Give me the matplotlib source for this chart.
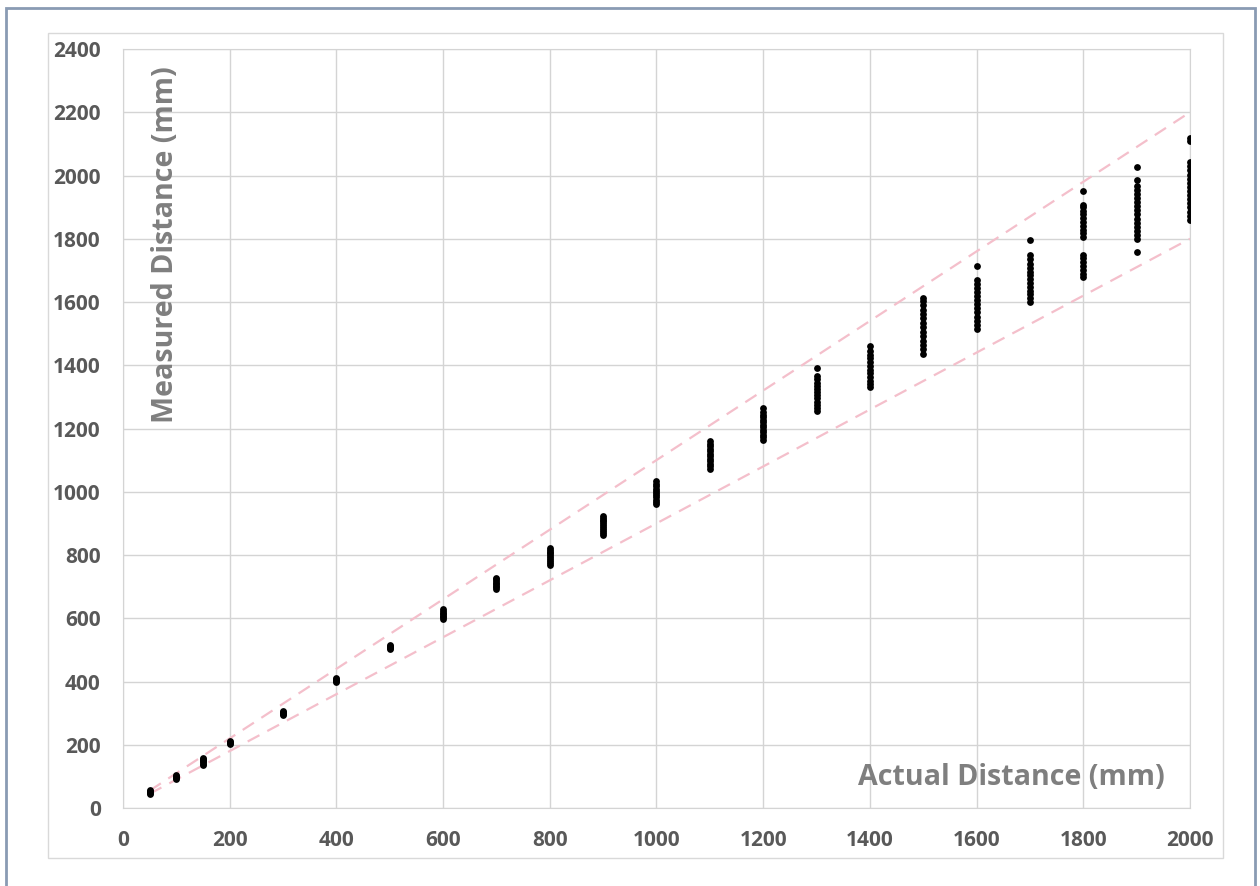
import matplotlib.pyplot as plt
from matplotlib.patches import Rectangle

plt.rcParams["font.family"] = ["Open Sans", "DejaVu Sans"]

# actual distance of each test position (mm)
posiciones = [50, 100, 150, 200, 300, 400, 500, 600, 700, 800, 900, 1000,
              1100, 1200, 1300, 1400, 1500, 1600, 1700, 1800, 1900, 2000]

lecturas = [
    [45, 48, 50, 53, 56],
    [92, 95, 98, 101, 104],
    [136, 140, 144, 148, 152, 155, 158],
    [203, 206, 209, 211],
    [295, 298, 301, 304, 306],
    [399, 402, 405, 408, 410],
    [503, 506, 509, 512, 515],
    [598, 603, 608, 613, 618, 623, 629],
    [693, 698, 703, 708, 713, 718, 723, 727],
    [769, 775, 781, 787, 793, 799, 805, 811, 817, 822],
    [864, 870, 876, 882, 888, 894, 900, 906, 912, 918, 923],
    [962, 968, 975, 982, 989, 996, 1003, 1010, 1017, 1024, 1033],
    [1072, 1080, 1088, 1096, 1104, 1112, 1120, 1128, 1136, 1144, 1152, 1160],
    [1164, 1172, 1180, 1188, 1196, 1204, 1212, 1220, 1228, 1236, 1244, 1252, 1264],
    [1255, 1265, 1275, 1285, 1295, 1305, 1315, 1325, 1335, 1345, 1355, 1365, 1390],
    [1330, 1340, 1350, 1362, 1374, 1386, 1398, 1410, 1422, 1434, 1446, 1462],
    [1436, 1450, 1464, 1478, 1492, 1506, 1520, 1534, 1548, 1562, 1576, 1590,
     1604, 1612],
    [1515, 1528, 1541, 1554, 1567, 1580, 1593, 1606, 1619, 1632, 1645, 1658,
     1670, 1715],
    [1600, 1612, 1624, 1636, 1648, 1660, 1672, 1684, 1696, 1708, 1720, 1735,
     1750, 1796],
    [1678, 1690, 1702, 1714, 1726, 1738, 1750, 1805, 1817, 1829, 1841, 1853,
     1865, 1877, 1889, 1900, 1908, 1950],
    [1758, 1800, 1812, 1825, 1838, 1851, 1864, 1877, 1890, 1903, 1916, 1929,
     1942, 1955, 1968, 1985, 2028],
    [1860, 1873, 1886, 1899, 1912, 1925, 1938, 1951, 1964, 1977, 1990, 2003,
     2016, 2029, 2042, 2110, 2120],
]

# +/-10 % tolerance lines
tolerancia_x = [50, 2000]
tolerancia_sup = [55, 2200]
tolerancia_inf = [45, 1800]

xticks = list(range(0, 2001, 200))
yticks = list(range(0, 2401, 200))

fig = plt.figure(figsize=(12.6, 8.86), dpi=100)
ax = fig.add_axes([0.0976, 0.0880, 0.8468, 0.8567])

# chart area border and outer frame
fig.patches.append(Rectangle((48 / 1260, 1 - 858 / 886), 1175 / 1260, 825 / 886,
                             transform=fig.transFigure, fill=False,
                             edgecolor="#d9d9d9", linewidth=1))
fig.patches.append(Rectangle((6 / 1260, -0.05), 1249 / 1260, 1.05 - 8 / 886,
                             transform=fig.transFigure, fill=False,
                             edgecolor="#8a9bb3", linewidth=2))

ax.plot(tolerancia_x, tolerancia_sup, linestyle=(0, (6, 4)), color="#f4bfcb",
        linewidth=1.6, zorder=2)
ax.plot(tolerancia_x, tolerancia_inf, linestyle=(0, (6, 4)), color="#f4bfcb",
        linewidth=1.6, zorder=2)

for pos, valores in zip(posiciones, lecturas):
    ax.scatter([pos] * len(valores), valores, s=24, color="black",
               linewidths=0, zorder=3)

ax.set_xlim(0, 2000)
ax.set_ylim(0, 2400)
ax.set_xticks(xticks)
ax.set_yticks(yticks)
ax.grid(True, color="#d4d4d4", linewidth=1)
ax.set_axisbelow(True)
for lado in ["top", "right", "left", "bottom"]:
    ax.spines[lado].set_color("#d4d4d4")
ax.tick_params(length=0, colors="#595959", labelsize=15)
ax.tick_params(axis="x", pad=16)
ax.tick_params(axis="y", pad=16)
for etiqueta in ax.get_xticklabels() + ax.get_yticklabels():
    etiqueta.set_fontweight("bold")

ax.text(0.0403, 0.742, "Measured Distance (mm)", transform=ax.transAxes,
        rotation=90, ha="center", va="center", fontsize=20.6,
        fontweight="bold", color="#7f7f7f")
ax.text(0.9766, 0.0405, "Actual Distance (mm)", transform=ax.transAxes,
        ha="right", va="center", fontsize=20.6, fontweight="bold",
        color="#7f7f7f")

plt.savefig("out.png", dpi=100)
